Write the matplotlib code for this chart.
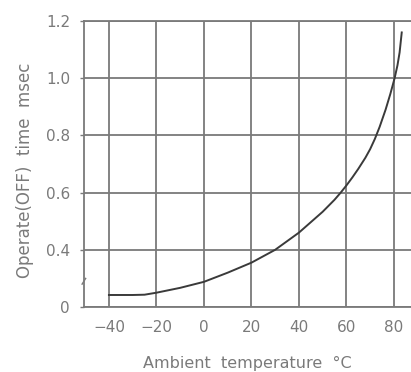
import matplotlib
matplotlib.use("Agg")
import matplotlib.pyplot as plt

# Data
temperature = [-40, -30, -25, -20, -10, 0, 10, 20, 30, 40, 50, 55, 57.6, 60, 62.5, 65, 68, 70,
               72, 74, 76.5, 78.5, 80.3, 81.5, 82.4, 83.3]
operate_time = [0.242, 0.242, 0.243, 0.250, 0.267, 0.288, 0.320, 0.355, 0.400, 0.460, 0.533,
                0.575, 0.600, 0.625, 0.653, 0.683, 0.722, 0.752, 0.788, 0.830, 0.890, 0.945,
                1.000, 1.045, 1.090, 1.160]

x_ticks = [-40, -20, 0, 20, 40, 60, 80]
x_tick_labels = ["\u221240", "\u221220", "0", "20", "40", "60", "80"]
y_ticks = [0.2, 0.4, 0.6, 0.8, 1.0, 1.2]
y_tick_labels = ["0", "0.4", "0.6", "0.8", "1.0", "1.2"]

text_color = "#7a7a7a"
grid_color = "#7a7a7a"

W, H = 411, 372
fig = plt.figure(figsize=(W / 100, H / 100), dpi=100)
ax = fig.add_axes([84 / W, (H - 307) / H, 327 / W, 286 / H])

ax.plot(temperature, operate_time, color="#3a3a3a", linewidth=1.4, zorder=3)

ax.set_xlim(-50.5, 87.2)
ax.set_ylim(0.2, 1.2)
ax.set_xticks(x_ticks)
ax.set_xticklabels(x_tick_labels)
ax.set_yticks(y_ticks)
ax.set_yticklabels(y_tick_labels)

ax.grid(True, color=grid_color, linewidth=1.3)
ax.set_axisbelow(True)

for side in ["left", "bottom", "top"]:
    ax.spines[side].set_color(grid_color)
    ax.spines[side].set_linewidth(1.3)
ax.spines["right"].set_visible(False)

ax.tick_params(axis="y", length=3, width=1, color=grid_color, pad=7,
               labelsize=11, labelcolor=text_color)
ax.tick_params(axis="x", length=0, pad=9, labelsize=11, labelcolor=text_color)

fig.text(247.5 / W, 1 - 363 / H, "Ambient  temperature  \u00b0C", color=text_color,
         fontsize=11.5, ha="center", va="center")
fig.text(25 / W, 1 - 170 / H, "Operate(OFF)  time  msec", color=text_color,
         fontsize=12, ha="center", va="center", rotation=90)

# small axis-break mark on the left spine
ax.plot([-51.3, -49.8], [0.28, 0.30], color=grid_color, linewidth=1.0, clip_on=False)

fig.savefig("out.png", dpi=100)
